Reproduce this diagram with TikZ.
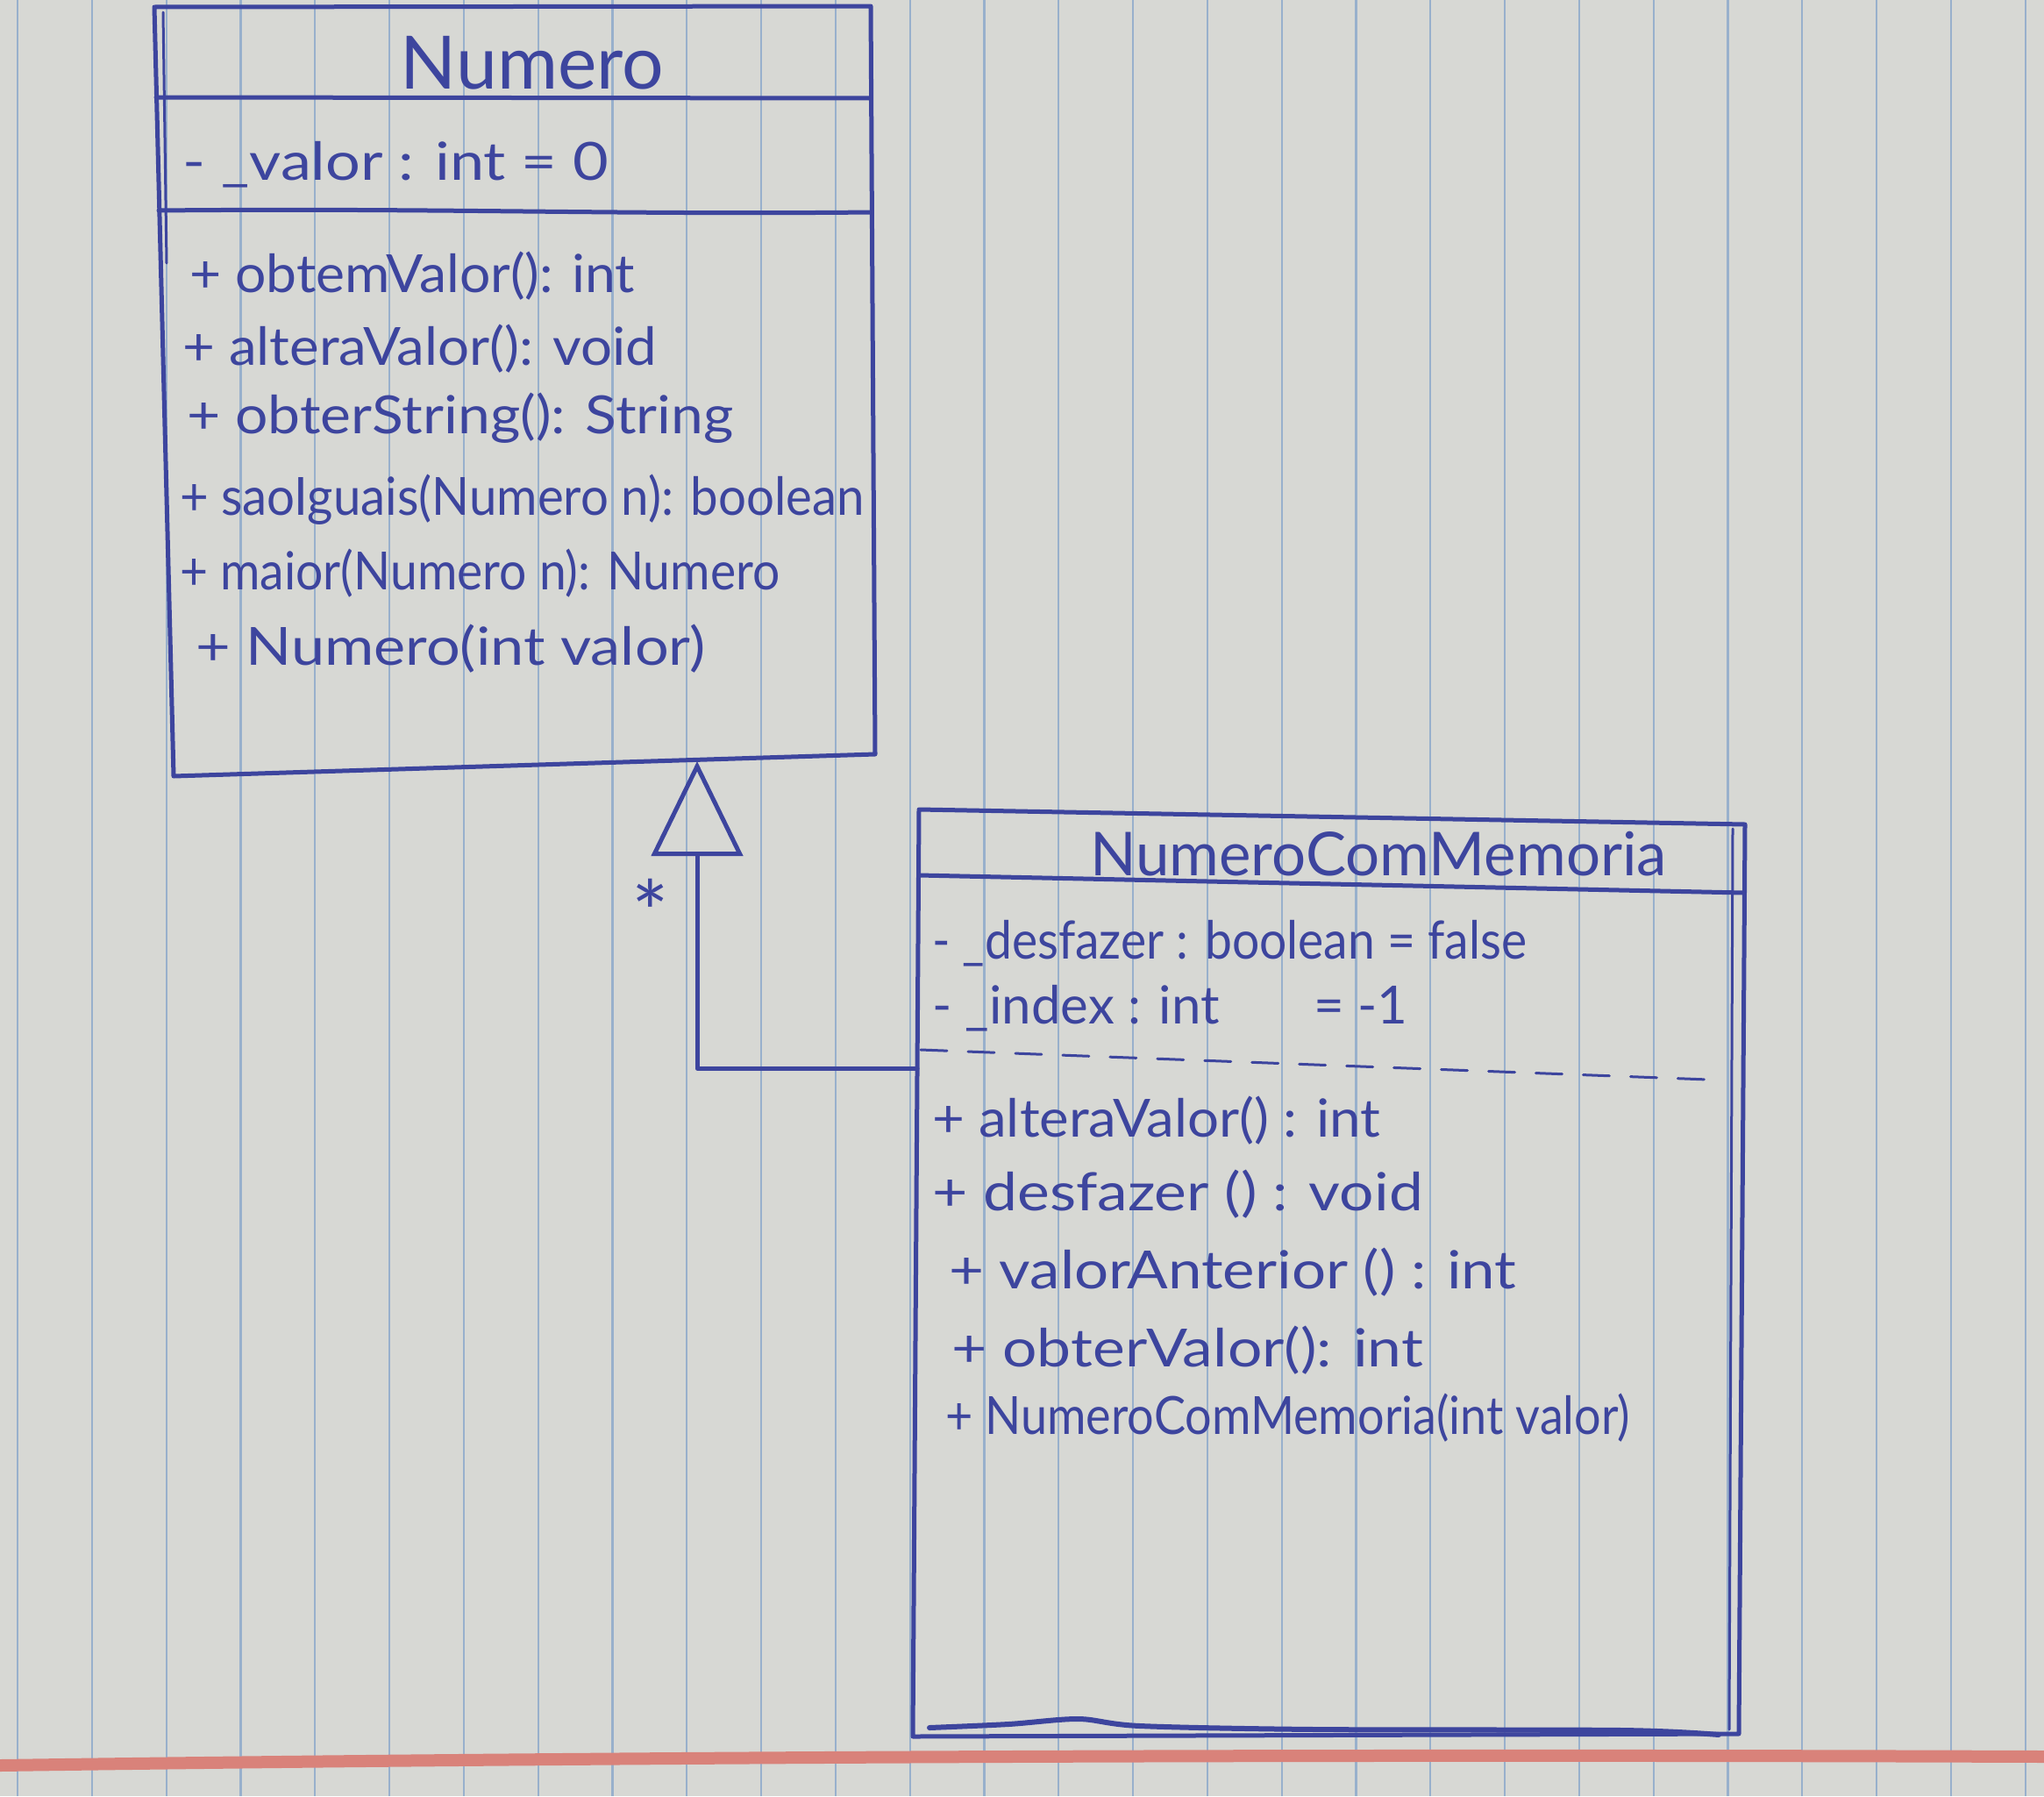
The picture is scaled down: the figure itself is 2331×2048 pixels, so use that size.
\documentclass[tikz,border=0pt]{standalone}
\usepackage{fontspec}
\setmainfont{Lato}
\usetikzlibrary{arrows.meta}
\definecolor{paper}{HTML}{D7D8D4}
\definecolor{rule}{HTML}{98B0CC}
\definecolor{margin}{HTML}{D9827A}
\definecolor{ink}{HTML}{3D459E}
% a handwritten line of text, stretched sideways by #1
\newcommand{\wide}[2]{\scalebox{#1}[1]{#2}}

\begin{document}
\begin{tikzpicture}[x=1pt,y=-1pt,
  inkline/.style={draw=ink, line width=5pt, line cap=round, line join=round},
  hand/.style={anchor=base west, inner sep=0pt, text=ink, font=\fontsize{60}{64}\selectfont},
  classname/.style={anchor=base, inner sep=0pt, text=ink, font=\fontsize{84}{90}\selectfont},
]
% ruled notebook paper
\fill[paper] (0,0) rectangle (2331,2048);
\useasboundingbox (0,0) rectangle (2331,2048);
\foreach \k in {0,...,27}
  \draw[rule, line width=2.2pt] ({20+84.8*\k},0) -- ({20+84.8*\k},2048);
\draw[margin, line width=14pt] (0,2013) .. controls (700,2003) and (1500,2000) .. (2331,2003);

% ---- class Numero ----
\coordinate (n-tl) at (176,8);
\coordinate (n-tr) at (993,7);
\coordinate (n-br) at (998,860);
\coordinate (n-bl) at (198,885);
\draw[inkline] (n-tl) -- (n-tr) -- (n-br) -- (n-bl) -- cycle;
\draw[inkline, line width=3pt] (186,14) -- (190,300);
\draw[inkline] (178,111) -- (993,112);
\draw[inkline] (181,240) .. controls (500,237) and (700,245) .. (994,242);

\node[classname] (n-name) at (607,101) {Numero};
\node[hand] (n-a1) at (208,205) {\wide{1.17}{- \_valor : int = 0}};
\node[hand] (n-o1) at (216,333) {\wide{1.04}{+ obtemValor(): int}};
\node[hand] (n-o2) at (208,416) {\wide{1.06}{+ alteraValor(): void}};
\node[hand] (n-o3) at (213,494) {\wide{1.10}{+ obterString(): String}};
\node[hand] (n-o4) at (205,587) {\wide{0.94}{+ saoIguais(Numero n): boolean}};
\node[hand] (n-o5) at (205,672) {\wide{0.92}{+ maior(Numero n): Numero}};
\node[hand] (n-o6) at (223,758) {\wide{1.14}{+ Numero(int valor)}};

% ---- class NumeroComMemoria ----
\coordinate (m-tl) at (1048,923);
\coordinate (m-tr) at (1990,940);
\coordinate (m-br) at (1983,1977);
\coordinate (m-bl) at (1041,1980);
\draw[inkline] (m-tl) -- (m-tr) -- (m-br) -- (m-bl) -- cycle;
\draw[inkline, line width=3pt] (1976,945) -- (1972,1972);
\draw[inkline] (1048,998) -- (1988,1018);
\draw[inkline, line width=3pt, dash pattern=on 30pt off 24pt] (1050,1197) -- (1948,1231);
\draw[inkline, line width=6pt] plot[smooth] coordinates
  {(1060,1970) (1150,1966) (1230,1960) (1300,1968) (1500,1972) (1850,1973) (1960,1978)};

\node[classname, font=\fontsize{69}{74}\selectfont] (m-name) at (1572,998) {NumeroComMemoria};
\node[hand] (m-a1) at (1063,1093) {\wide{0.92}{- \_desfazer : boolean = false}};
\node[hand] (m-a2) at (1063,1167) {- \_index : int \ \ \ \ \ \ = -1};
\node[hand] (m-o1) at (1063,1296) {\wide{1.06}{+ alteraValor() : int}};
\node[hand] (m-o2) at (1063,1380) {\wide{1.16}{+ desfazer () : void}};
\node[hand] (m-o3) at (1082,1469) {\wide{1.15}{+ valorAnterior () : int}};
\node[hand] (m-o4) at (1085,1558) {\wide{1.16}{+ obterValor(): int}};
\node[hand] (m-o5) at (1078,1635) {\wide{0.90}{+ NumeroComMemoria(int valor)}};

% ---- generalization ----
\coordinate (gen-from) at (1046,1218);
\coordinate (gen-to) at (795,868);
\draw[inkline, -{Triangle[open, length=108pt, width=104pt, line width=5pt]}] (gen-from) -| (gen-to);
\node[text=ink, inner sep=0pt, font=\fontsize{100}{100}\selectfont] (mult) at (742,1040) {*};
\end{tikzpicture}
\end{document}
